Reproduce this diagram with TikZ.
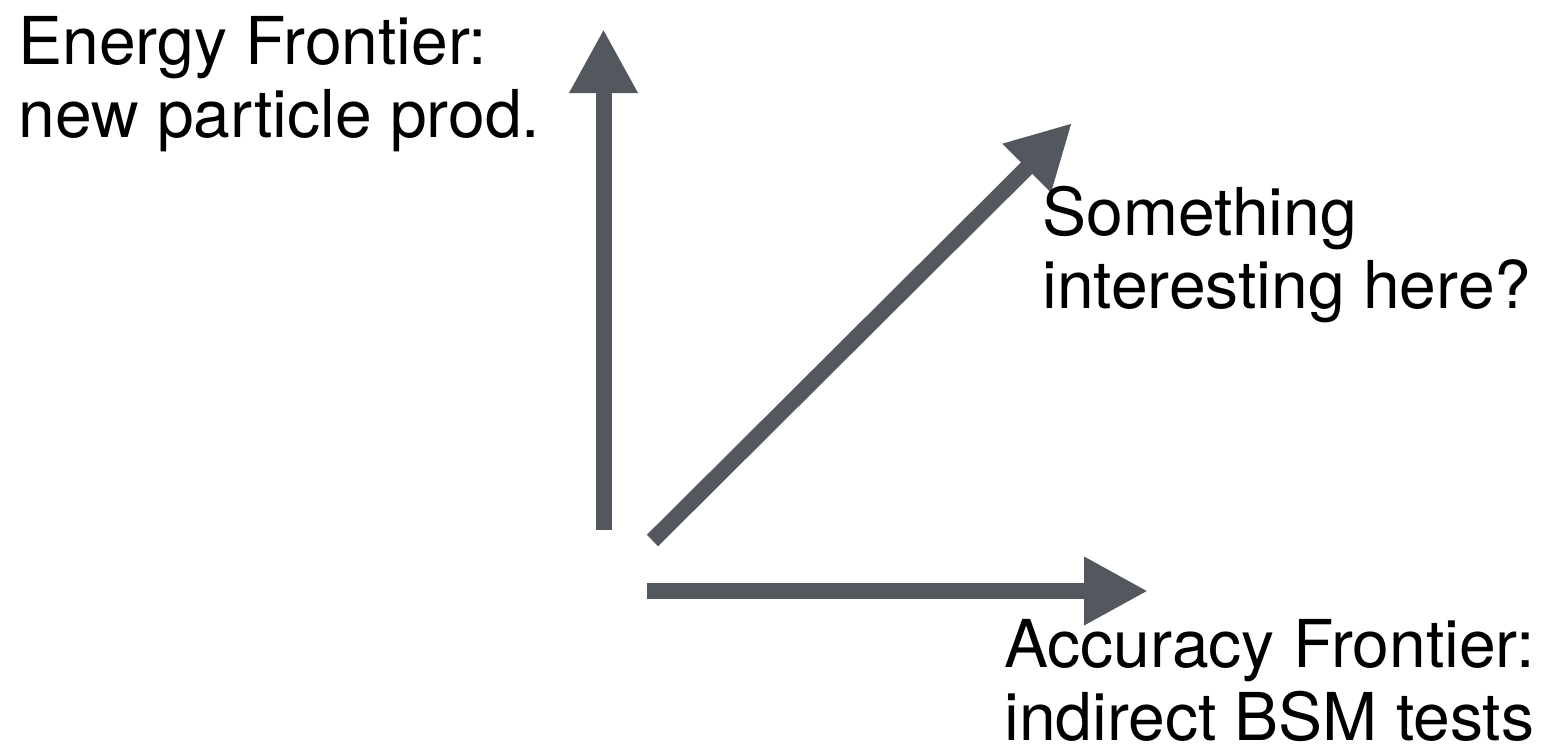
\documentclass[tikz,border=0pt]{standalone}
\usepackage{fontspec}
\setmainfont{TeX Gyre Heros}
\usetikzlibrary{arrows.meta}
\definecolor{arrowgray}{RGB}{83,87,94}
\begin{document}
\begin{tikzpicture}[x=1pt,y=1pt,
  axis/.style={draw=arrowgray,line width=8pt,line cap=butt,
    -{Triangle[length=32pt,width=32pt,fill=arrowgray]}},
  lbl/.style={inner sep=0pt,anchor=base west,align=left,
    font=\fontsize{33}{36.5}\selectfont,text=black}]
\useasboundingbox (0,0) rectangle (771,-372.5);
% arrow end points
\coordinate (vs) at (301.75,-265);
\coordinate (ve) at (301.75,-14.5);
\coordinate (hs) at (323.5,-295.5);
\coordinate (he) at (574,-295.5);
\coordinate (ds) at (326.25,-270.25);
\coordinate (de) at (536,-61.5);
\draw[axis] (vs) -- (ve);
\draw[axis] (hs) -- (he);
\draw[axis] (ds) -- (de);
% labels (anchor = baseline of the last line)
\node[lbl] (energy) at (9,-68.5) {Energy Frontier:\\new particle prod.};
\node[lbl] (some) at (521,-154) {Something\\interesting here?};
\node[lbl] (acc) at (502,-370) {Accuracy Frontier:\\indirect BSM tests};
\end{tikzpicture}
\end{document}
